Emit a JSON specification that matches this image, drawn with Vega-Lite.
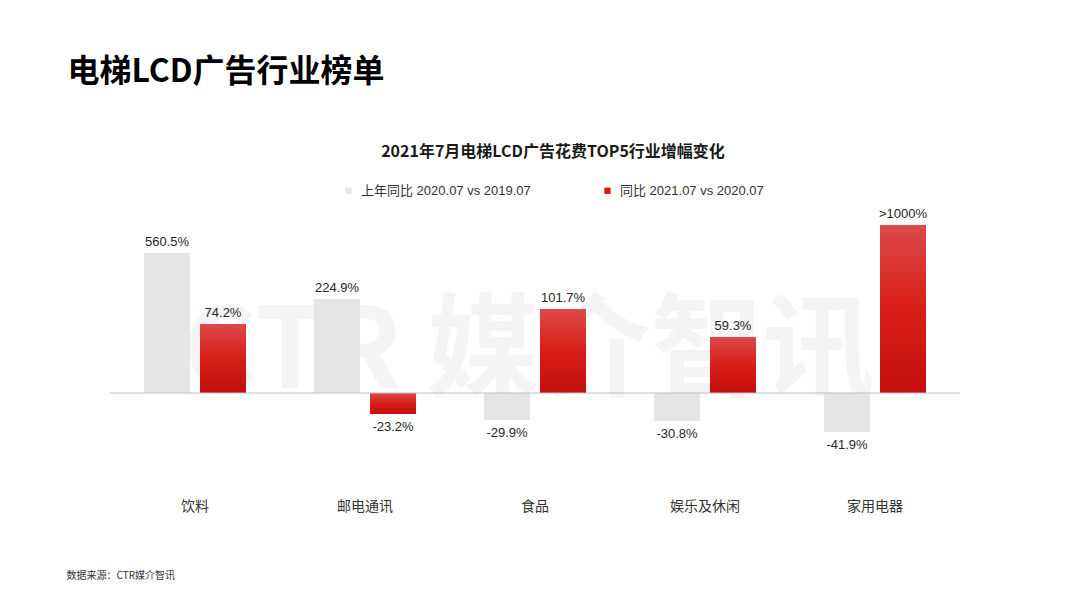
{
  "$schema": "https://vega.github.io/schema/vega-lite/v6.json",
  "width": 850,
  "height": 280,
  "autosize": {"type": "none"},
  "padding": {"left": 110, "top": 200, "right": 120, "bottom": 128},
  "background": "white",
  "config": {"view": {"stroke": null}, "font": "Liberation Sans, Noto Sans CJK SC"},
  "data": {
    "values": [
      {"industry": "饮料", "series": "上年同比 2020.07 vs 2019.07", "bar": 140, "label": "560.5%"},
      {"industry": "饮料", "series": "同比 2021.07 vs 2020.07", "bar": 69, "label": "74.2%"},
      {"industry": "邮电通讯", "series": "上年同比 2020.07 vs 2019.07", "bar": 94, "label": "224.9%"},
      {"industry": "邮电通讯", "series": "同比 2021.07 vs 2020.07", "bar": -21, "label": "-23.2%"},
      {"industry": "食品", "series": "上年同比 2020.07 vs 2019.07", "bar": -27, "label": "-29.9%"},
      {"industry": "食品", "series": "同比 2021.07 vs 2020.07", "bar": 84, "label": "101.7%"},
      {"industry": "娱乐及休闲", "series": "上年同比 2020.07 vs 2019.07", "bar": -28, "label": "-30.8%"},
      {"industry": "娱乐及休闲", "series": "同比 2021.07 vs 2020.07", "bar": 56, "label": "59.3%"},
      {"industry": "家用电器", "series": "上年同比 2020.07 vs 2019.07", "bar": -39, "label": "-41.9%"},
      {"industry": "家用电器", "series": "同比 2021.07 vs 2020.07", "bar": 168, "label": ">1000%"}
    ]
  },
  "layer": [
    {
      "data": {"values": [{"wm": "CTR  媒介智讯"}]},
      "mark": {"type": "text", "font": "Noto Sans CJK SC", "fontWeight": "bold", "fontSize": 112, "color": "#f4f4f4", "baseline": "alphabetic", "align": "center", "dx": -6, "dy": -5},
      "encoding": {
        "x": {"datum": "食品", "type": "nominal", "scale": {"domain": ["饮料", "邮电通讯", "食品", "娱乐及休闲", "家用电器"]}},
        "y": {"datum": 0, "type": "quantitative"},
        "text": {"field": "wm"}
      }
    },
    {
      "mark": {"type": "bar"},
      "encoding": {
        "x": {
          "field": "industry", "type": "nominal",
          "scale": {"domain": ["饮料", "邮电通讯", "食品", "娱乐及休闲", "家用电器"], "paddingInner": 0.4, "paddingOuter": 0.2},
          "axis": {
            "title": "数据来源：CTR媒介智讯", "titleX": -44, "titleY": 95, "titleAnchor": "start", "titleAlign": "left", "titleBaseline": "middle",
            "titleFontSize": 10, "titleFontWeight": "normal", "titleColor": "#333333", "titleFont": "Noto Sans CJK SC",
            "labelAngle": 0, "labelAlign": "center", "labelBaseline": "top", "labelFontSize": 14, "labelFont": "Noto Sans CJK SC", "labelColor": "#333333", "labelPadding": 19,
            "domain": false, "ticks": false, "tickSize": 0, "grid": false
          }
        },
        "xOffset": {"field": "series", "type": "nominal", "scale": {"domain": ["上年同比 2020.07 vs 2019.07", "同比 2021.07 vs 2020.07"], "paddingInner": 0.1786, "paddingOuter": 0}},
        "y": {
          "field": "bar", "type": "quantitative",
          "scale": {"domain": [-87, 193], "nice": false, "zero": true},
          "axis": {
            "title": "电梯LCD广告行业榜单", "titleAngle": 0, "titleX": -43, "titleY": -119, "titleAlign": "left", "titleBaseline": "alphabetic",
            "titleFontSize": 32, "titleFontWeight": "bold", "titleFont": "Noto Sans CJK SC", "titleColor": "#000000",
            "labels": false, "ticks": false, "domain": false, "grid": false
          }
        },
        "color": {
          "field": "series", "type": "nominal",
          "scale": {"domain": ["上年同比 2020.07 vs 2019.07", "同比 2021.07 vs 2020.07"], "range": ["#e5e5e5", "#d71a16"]},
          "legend": {
            "orient": "none", "legendX": 232, "legendY": -56, "direction": "horizontal",
            "title": "2021年7月电梯LCD广告花费TOP5行业增幅变化", "titleOrient": "top", "titleAnchor": "middle",
            "titleFontSize": 16, "titleFont": "Noto Sans CJK SC", "titleFontWeight": "bold", "titleColor": "#1a1a1a", "titlePadding": 24, "titleLimit": 0,
            "symbolType": "square", "symbolSize": 40, "symbolStrokeWidth": 0,
            "labelFontSize": 13, "labelColor": "#333333", "labelLimit": 0, "labelOffset": 6, "columnPadding": 70
          }
        }
      }
    },
    {
      "transform": [{"filter": "datum.series == '同比 2021.07 vs 2020.07'"}],
      "mark": {
        "type": "bar",
        "color": {"gradient": "linear", "x1": 0, "y1": 0, "x2": 0, "y2": 1, "stops": [{"offset": 0, "color": "#dc4a4a"}, {"offset": 0.5, "color": "#d81e18"}, {"offset": 1, "color": "#c40f0f"}]}
      },
      "encoding": {
        "x": {"field": "industry", "type": "nominal"},
        "xOffset": {"field": "series", "type": "nominal"},
        "y": {"field": "bar", "type": "quantitative"}
      }
    },
    {
      "data": {"values": [{}]},
      "mark": {"type": "rule", "color": "#bfbfbf", "strokeWidth": 1},
      "encoding": {"y": {"datum": 0, "type": "quantitative"}}
    },
    {
      "transform": [{"filter": "datum.bar >= 0"}],
      "mark": {"type": "text", "baseline": "alphabetic", "dy": -7, "fontSize": 13, "color": "#262626", "font": "Liberation Sans"},
      "encoding": {
        "x": {"field": "industry", "type": "nominal"},
        "xOffset": {"field": "series", "type": "nominal"},
        "y": {"field": "bar", "type": "quantitative"},
        "text": {"field": "label"}
      }
    },
    {
      "transform": [{"filter": "datum.bar < 0"}],
      "mark": {"type": "text", "baseline": "top", "dy": 7, "fontSize": 13, "color": "#262626", "font": "Liberation Sans"},
      "encoding": {
        "x": {"field": "industry", "type": "nominal"},
        "xOffset": {"field": "series", "type": "nominal"},
        "y": {"field": "bar", "type": "quantitative"},
        "text": {"field": "label"}
      }
    }
  ]
}
